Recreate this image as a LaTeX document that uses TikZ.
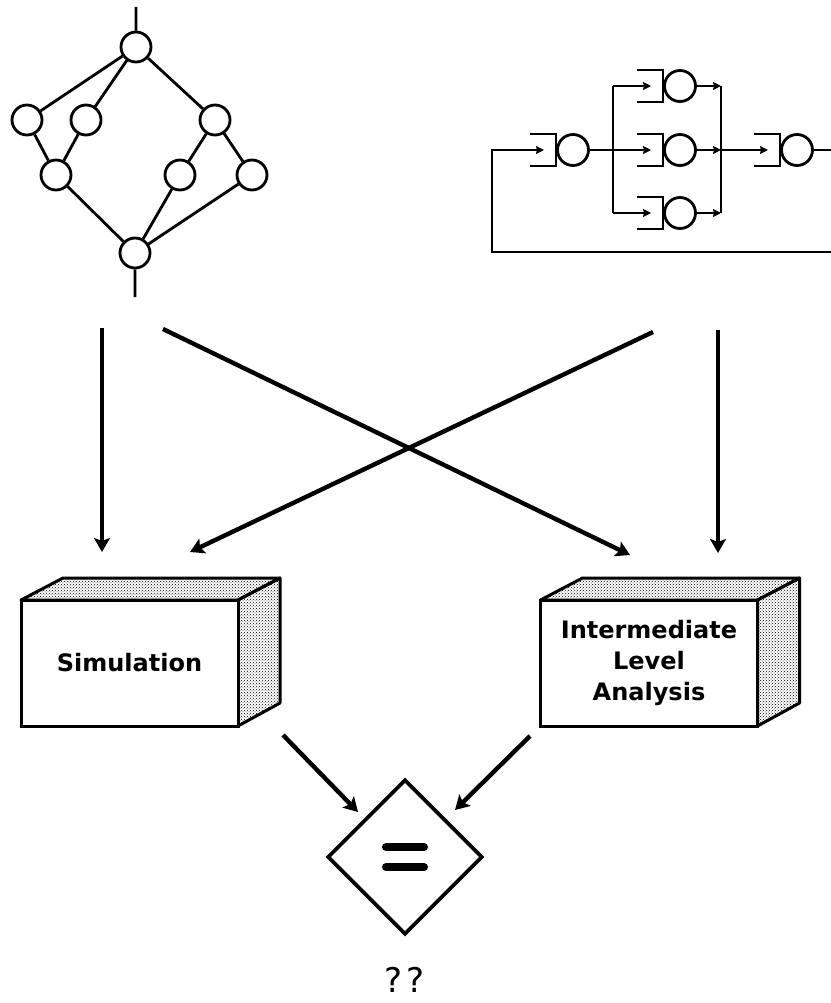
\documentclass[tikz,border=0pt]{standalone}
\usepackage{fontspec}
\setsansfont{DejaVu Sans}
\usetikzlibrary{
  arrows.meta,
  positioning,
  calc,             % $...$ for the equals bars
  shapes.geometric, % diamond
  patterns,         % stippled faces
}
\def\mywire{2.8pt}
\def\mybig{4.4pt}
\newcommand{\queue}[3]{% name, x of bracket back, y
  \draw[wire] (#2-26,#3-16) -- (#2,#3-16) -- (#2,#3+16) -- (#2-26,#3+16);
  \node[server] (#1) at (#2+17,#3) {};
  \coordinate (#1-in) at (#2-12,#3);
}
\tikzset{
  wire/.style={line width=\mywire},
  vertex/.style={
    draw,
    circle,
    line width=\mywire,
    minimum size=30pt,
    inner sep=0pt
  },
  server/.style={
    vertex,
    minimum size=31pt
  },
  flow/.style={
    wire,
    -{Stealth[length=8pt,width=8pt,inset=1pt]}
  },
  big arrow/.style={
    line width=\mybig,
    -{Stealth[length=14pt,width=16pt,inset=3pt]}
  },
  front face/.style={
    draw,
    fill=white,
    line width=3pt,
    minimum width=217pt,
    minimum height=126pt,
    inner sep=0pt,
    align=center,
    font=\sffamily\bfseries\fontsize{24}{31}\selectfont
  },
  dotted face/.style={
    draw,
    line width=3pt,
    line join=round,
    pattern=crosshatch dots
  },
  compare/.style={
    draw,
    diamond,
    line width=3.6pt,
    minimum width=155pt,
    minimum height=155pt,
    inner sep=0pt
  }
}

\begin{document}
\begin{tikzpicture}[x=1pt,y=-1pt]
\useasboundingbox (0,0) rectangle (830,1003);

% series-parallel graph
\node[vertex] (top) at (136,47)  {};
\node[vertex] (l1)  at (27,120)  {};
\node[vertex] (l2)  at (86,120)  {};
\node[vertex] (r1)  at (215,120) {};
\node[vertex] (m1)  at (56,175)  {};
\node[vertex] (r2)  at (180,175) {};
\node[vertex] (r3)  at (252,175) {};
\node[vertex] (bot) at (135,253) {};
\coordinate (g in)  at (136,7);
\coordinate (g out) at (135,297);
\draw[wire] (g in) -- (top)
            (top) -- (l1)  (top) -- (l2)  (top) -- (r1)
            (l1) -- (m1)   (l2) -- (m1)
            (r1) -- (r2)   (r1) -- (r3)
            (m1) -- (bot)  (r2) -- (bot)  (r3) -- (bot)
            (bot) -- (g out);

% queueing network
\queue{q0}{556}{150}
\queue{qa}{663}{86}
\queue{qb}{663}{150}
\queue{qc}{663}{213}
\queue{q4}{780}{150}
\coordinate (split)     at (613,150);
\coordinate (split top) at (613,86);
\coordinate (split bot) at (613,213);
\coordinate (join)      at (721,150);
\coordinate (join top)  at (721,86);
\coordinate (join bot)  at (721,213);
\coordinate (back)      at (842,252);
\coordinate (back end)  at (492,252);
\draw[wire] (q0) -- (split)
            (split top) -- (split bot)
            (join top) -- (join bot);
\draw[flow] (split top) -- (qa-in);
\draw[flow] (split) -- (qb-in);
\draw[flow] (split bot) -- (qc-in);
\draw[flow] (qa) -- (join top);
\draw[flow] (qb) -- (join);
\draw[flow] (qc) -- (join bot);
\draw[flow] (join) -- (q4-in);
\draw[flow] (q4) -| (back) -- (back end) |- (q0-in);

% the two evaluation boxes
\foreach \x in {129.5, 649}{
  \draw[dotted face] (\x-108.5,600) -- ++(42,-22) -- ++(217,0) -- ++(-42,22) -- cycle;
  \draw[dotted face] (\x+108.5,600) -- ++(42,-22) -- ++(0,125) -- ++(-42,23) -- cycle;
}
\node[front face] (sim) at (129.5,663) {Simulation};
\node[front face] (ila) at (649,663)   {Intermediate\\Level\\Analysis};

% arrows from the models to the methods
\coordinate (a1) at (102,328);  \coordinate (b1) at (102,552);
\coordinate (a2) at (163,329);  \coordinate (b2) at (630,555);
\coordinate (a3) at (653,332);  \coordinate (b3) at (190,552);
\coordinate (a4) at (718,330);  \coordinate (b4) at (718,553);
\draw[big arrow,line width=3.4pt] (a1) -- (b1);
\draw[big arrow] (a2) -- (b2);
\draw[big arrow] (a3) -- (b3);
\draw[big arrow,line width=3.4pt] (a4) -- (b4);

% comparison
\node[compare] (eq) at (405,857) {};
\draw[line width=8pt,line cap=round] ($(eq)+(-19,-10)$) -- ($(eq)+(19,-10)$)
                                     ($(eq)+(-19,10)$) -- ($(eq)+(19,10)$);
\coordinate (c1) at (283,735);  \coordinate (d1) at (358,812);
\coordinate (c2) at (530,736);  \coordinate (d2) at (455,810);
\draw[big arrow] (c1) -- (d1);
\draw[big arrow] (c2) -- (d2);
\node[font=\sffamily\fontsize{34}{34}\selectfont] (ask) at (405,980) {?\kern4pt?};
\end{tikzpicture}
\end{document}
